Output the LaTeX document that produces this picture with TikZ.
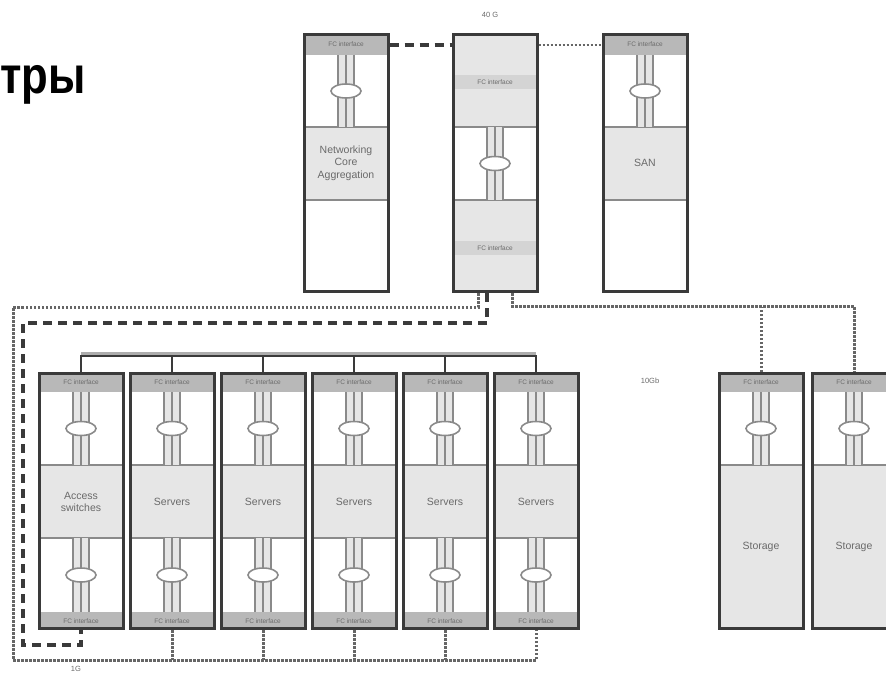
\documentclass[tikz,border=0pt]{standalone}
\usepackage{fontspec}
\setmainfont{Liberation Sans}
\usetikzlibrary{positioning, calc}
\definecolor{cdark}{HTML}{3A3A3A}
\definecolor{cband}{HTML}{B8B8B8}
\definecolor{cfill}{HTML}{E6E6E6}
\definecolor{cline}{HTML}{8A8A8A}
\definecolor{cdot}{HTML}{666666}
\definecolor{ctext}{HTML}{6A6A6A}
\tikzset{
  rack/.style={draw=cdark, line width=3pt, minimum width=84pt, minimum height=#1, inner sep=0pt},
  rack/.default=255pt,
  tag/.style={font=\fontsize{6.5}{7}\selectfont, text=ctext, inner sep=1pt},
  lbl/.style={font=\fontsize{10.5}{12.5}\selectfont, text=ctext, align=center},
  cut/.style={draw=cline, line width=2pt},
  bus/.style={draw=cdark, line width=2.5pt},
  dotbus/.style={draw=cdot, line width=3pt, dash pattern=on 2.5pt off 1.5pt},
  dashbus/.style={draw=cdark, line width=3.5pt, dash pattern=on 9pt off 6pt},
}

\begin{document}
\begin{tikzpicture}[x=1pt, y=-1pt]
  \useasboundingbox (0,0) rectangle (886,683);
  % three cables with a bundle ring
  \newcommand{\links}[3]{%
    \fill[cfill] (#1-9,#2) rectangle (#1+9,#3);
    \foreach \dx in {-8,0,8} \draw[cline, line width=1.2pt] (#1+\dx,#2) -- (#1+\dx,#3);
    \draw[cline, line width=1.6pt, fill=white] (#1,{(#2+#3)/2}) ellipse (15pt and 7pt);}
  % rack in the upper row: header, cables, label pane
  \newcommand{\toprack}[3]{%
    \fill[cband] (#2-42,33) rectangle (#2+42,55);
    \fill[cfill] (#2-42,127) rectangle (#2+42,200);
    \draw[cut] (#2-42,127) -- (#2+42,127) (#2-42,200) -- (#2+42,200);
    \links{#2}{55}{127}
    \node[tag] (#1h) at (#2,44) {FC interface};
    \node[lbl] (#1t) at (#2,163) {#3};
    \node[rack=257pt] (#1) at (#2,163) {};}
  % rack in the lower row
  \newcommand{\srvrack}[3]{%
    \fill[cband] (#2-42,372) rectangle (#2+42,392);
    \fill[cfill] (#2-42,465) rectangle (#2+42,538);
    \fill[cband] (#2-42,612) rectangle (#2+42,630);
    \draw[cut] (#2-42,465) -- (#2+42,465) (#2-42,538) -- (#2+42,538);
    \links{#2}{392}{465}
    \links{#2}{538}{612}
    \node[tag] (#1h) at (#2,382) {FC interface};
    \node[lbl] (#1t) at (#2,502) {#3};
    \node[tag] (#1f) at (#2,621) {FC interface};
    \node[rack] (#1) at (#2,501) {};}
  % storage rack
  \newcommand{\storack}[2]{%
    \fill[cband] (#2-42,372) rectangle (#2+42,392);
    \fill[cfill] (#2-42,465) rectangle (#2+42,630);
    \draw[cut] (#2-42,465) -- (#2+42,465);
    \links{#2}{392}{465}
    \node[tag] (#1h) at (#2,382) {FC interface};
    \node[lbl] (#1t) at (#2,547) {Storage};
    \node[rack] (#1) at (#2,501) {};}

  % title
  \node[font=\bfseries\fontsize{52}{52}\selectfont, anchor=base west, inner sep=0pt, xscale=0.84] (title) at (0,93) {тры};

  % upper row
  \toprack{agg}{346}{Networking\\Core\\Aggregation}
  \fill[cfill] (453,33) rectangle (537,127);
  \fill[cfill] (453,200) rectangle (537,293);
  \fill[cband!60] (453,75) rectangle (537,89);
  \fill[cband!60] (453,241) rectangle (537,255);
  \draw[cut] (453,127) -- (537,127) (453,200) -- (537,200);
  \links{495}{127}{200}
  \node[tag] (fcsa) at (495,82) {FC interface};
  \node[tag] (fcsb) at (495,248) {FC interface};
  \node[rack=257pt] (fcs) at (495,163) {};
  \toprack{san}{645}{SAN}
  \node[tag, font=\fontsize{7.5}{8}\selectfont] (uplink) at (490,15) {40 G};

  % lower row
  \srvrack{sw1}{81}{Access\\switches}
  \srvrack{srv2}{172}{Servers}
  \srvrack{srv3}{263}{Servers}
  \srvrack{srv4}{354}{Servers}
  \srvrack{srv5}{445}{Servers}
  \srvrack{srv6}{536}{Servers}
  \storack{sto1}{761}
  \storack{sto2}{854}
  \node[tag, font=\fontsize{7.5}{8}\selectfont] (fclbl) at (650,381) {10Gb};
  \node[tag, font=\fontsize{7.5}{8}\selectfont] (gelbl) at (76,669) {1G};

  % links between the upper racks
  \draw[dashbus] ($(agg.north east)+(0,12)$) -- ($(fcs.north west)+(0,12)$);
  \draw[dotbus, line width=2.5pt] ($(fcs.north east)+(0,12)$) -- ($(san.north west)+(0,12)$);

  % solid bus over the lower row
  \draw[cline!70, line width=3pt] ($(sw1.north)+(0,-19)$) -- ($(srv6.north)+(0,-19)$);
  \draw[bus] (sw1.north) |- ($(srv6.north)+(0,-16)$) -- (srv6.north);
  \foreach \n in {srv2,srv3,srv4,srv5} \draw[bus] (\n.north) -- ++(0,-16);

  % dotted loop round the lower row
  \coordinate (lp1) at (13,307);
  \coordinate (lp2) at (13,660);
  \draw[dotbus] ($(fcs.south)+(-17,0)$) |- (lp1) -- (lp2) -| (srv6.south);
  \foreach \n in {srv2,srv3,srv4,srv5} \draw[dotbus] (\n.south) -- (\n.south |- lp2);

  % dashed link to the access switches
  \coordinate (dl1) at (23,323);
  \coordinate (dl2) at (23,645);
  \draw[dashbus] ($(fcs.south)+(-8,0)$) |- (dl1) -- (dl2) -| (sw1.south);

  % dotted link to the storage
  \draw[dotbus] ($(fcs.south)+(17,0)$) |- ($(sto2.north)+(0,-66)$) -- (sto2.north);
  \draw[dotbus] (sto1.north) -- (sto1.north |- lp1);
\end{tikzpicture}
\end{document}
